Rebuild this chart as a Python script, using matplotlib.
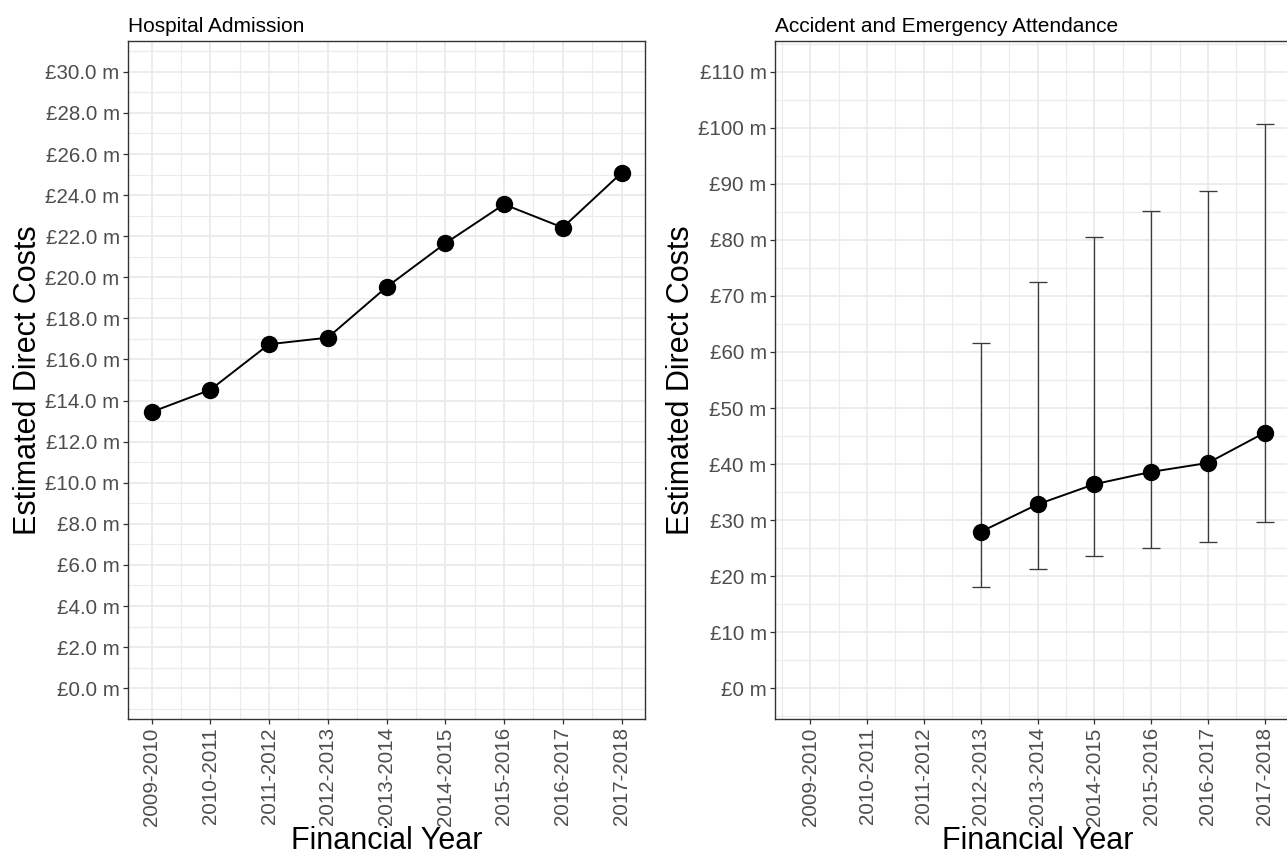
import numpy as np
import matplotlib
matplotlib.use('Agg')
import matplotlib.pyplot as plt
from matplotlib.ticker import MultipleLocator, FuncFormatter

plt.rcParams['font.family'] = ['Liberation Sans', 'DejaVu Sans']

years = ['2009-2010', '2010-2011', '2011-2012', '2012-2013', '2013-2014',
         '2014-2015', '2015-2016', '2016-2017', '2017-2018']

# hospital admission costs (GBP m), all years
hosp_cost = [13.44, 14.52, 16.74, 17.06, 19.52, 21.65, 23.55, 22.42, 25.08]

# A&E attendance, from 2012-2013 onward
ae_idx = [3, 4, 5, 6, 7, 8]
ae_cost = [27.9, 32.8, 36.4, 38.6, 40.2, 45.6]
ae_low = [18.05, 21.24, 23.67, 25.03, 26.04, 29.6]
ae_high = [61.67, 72.45, 80.57, 85.19, 88.68, 100.7]

fig = plt.figure(figsize=(12.87, 8.59), dpi=100)
ax1 = fig.add_axes([128/1287, 140/859, 517/1287, 678/859])
# right panel runs past the figure edge, as in the original export
ax2 = fig.add_axes([775/1287, 140/859, 525/1287, 678/859])

grid_col = '#EBEBEB'
tick_col = '#4D4D4D'
border_col = '#333333'


def style(ax, major, minor, fmt, ylim, xlim, title, ylab_x):
    ax.set_xlim(*xlim)
    ax.set_ylim(*ylim)
    ax.set_xticks(range(len(years)))
    ax.set_xticklabels(years, rotation=90, fontsize=14.8, color=tick_col)
    ax.xaxis.set_minor_locator(MultipleLocator(0.5))
    ax.yaxis.set_major_locator(MultipleLocator(major))
    ax.yaxis.set_minor_locator(MultipleLocator(minor))
    ax.yaxis.set_major_formatter(FuncFormatter(fmt))
    ax.tick_params(axis='y', labelsize=14.8, labelcolor=tick_col)
    ax.tick_params(which='major', length=3.5, width=0.9, color=border_col, pad=2.5)
    ax.tick_params(which='minor', length=0)
    ax.grid(which='major', color=grid_col, linewidth=1.3)
    ax.grid(which='minor', color=grid_col, linewidth=0.8)
    ax.set_axisbelow(True)
    for s in ax.spines.values():
        s.set_color(border_col)
        s.set_linewidth(1.0)
    ax.set_xlabel('Financial Year', fontsize=22, va='top')
    ax.xaxis.set_label_coords(0.5, -0.158)
    ax.set_ylabel('Estimated Direct Costs', fontsize=22)
    ax.yaxis.set_label_coords(ylab_x, 0.5)
    ax.set_title(title, loc='left', fontsize=15, pad=6.5)


style(ax1, 2, 1, lambda v, p: '£%.1f m' % v, (-1.5, 31.5), (-0.4, 8.4),
      'Hospital Admission', -0.164)
ax1.plot(range(len(years)), hosp_cost, color='black', lw=1.4,
         marker='o', markersize=11.5, zorder=3)

style(ax2, 10, 5, lambda v, p: '£%d m' % round(v), (-5.5, 115.5), (-0.62, 8.62),
      'Accident and Emergency Attendance', -0.150)
err = [np.array(ae_cost) - np.array(ae_low), np.array(ae_high) - np.array(ae_cost)]
ax2.errorbar(ae_idx, ae_cost, yerr=err, fmt='none', ecolor='#3A3A3A',
             elinewidth=0.95, capsize=6.5, capthick=0.95, zorder=2)
ax2.plot(ae_idx, ae_cost, color='black', lw=1.4,
         marker='o', markersize=11.5, zorder=3)

fig.savefig('out.png', dpi=100)
